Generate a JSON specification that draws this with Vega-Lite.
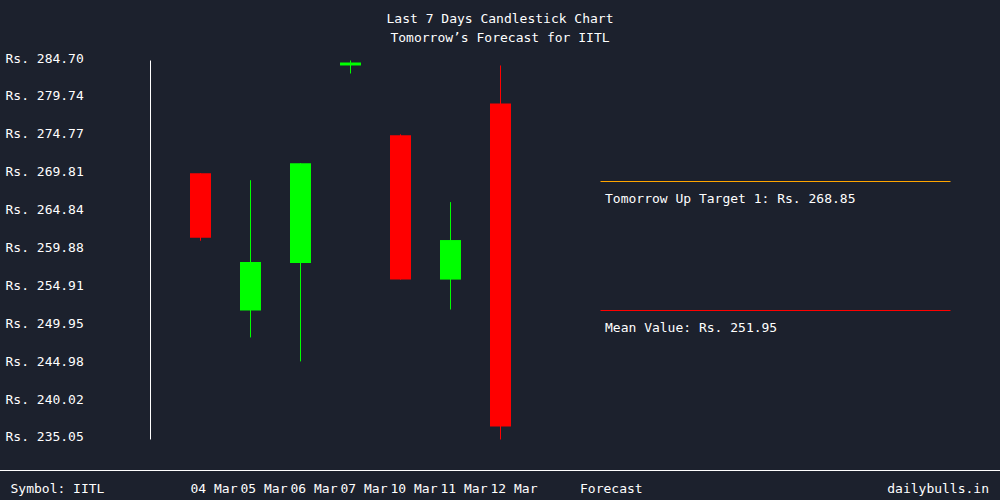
{
  "$schema": "https://vega.github.io/schema/vega-lite/v6.json",
  "width": 1000,
  "height": 500,
  "autosize": {"type": "none"},
  "padding": 0,
  "background": "#1c212d",
  "view": {"stroke": null},
  "config": {
    "font": "DejaVu Sans Mono",
    "text": {"font": "DejaVu Sans Mono", "fontSize": 13, "color": "#ffffff"},
    "axisY": {
      "orient": "left",
      "labelAlign": "left",
      "labelPadding": -5,
      "ticks": false,
      "domain": false,
      "grid": false,
      "labelColor": "#ffffff",
      "labelFont": "DejaVu Sans Mono",
      "labelFontSize": 13,
      "labelBaseline": "middle",
      "labelOffset": -2.5,
      "labelOverlap": false,
      "labelBound": false
    }
  },
  "title": {
    "text": "Last 7 Days Candlestick Chart",
    "subtitle": "Tomorrow’s Forecast for IITL",
    "anchor": "middle",
    "frame": "group",
    "orient": "top",
    "offset": -45,
    "font": "DejaVu Sans Mono",
    "fontSize": 13,
    "fontWeight": "normal",
    "color": "#ffffff",
    "subtitleFont": "DejaVu Sans Mono",
    "subtitleFontSize": 13,
    "subtitleColor": "#ffffff",
    "subtitlePadding": 6
  },
  "datasets": {
    "candles": [
      {"i": 0, "date": "04 Mar", "open": 269.94, "high": 269.94, "low": 261.09, "close": 261.48},
      {"i": 1, "date": "05 Mar", "open": 251.95, "high": 269.02, "low": 248.42, "close": 258.31},
      {"i": 2, "date": "06 Mar", "open": 258.18, "high": 271.24, "low": 245.28, "close": 271.24},
      {"i": 3, "date": "07 Mar", "open": 284.05, "high": 284.70, "low": 283.00, "close": 284.44},
      {"i": 4, "date": "10 Mar", "open": 274.90, "high": 275.03, "low": 256.00, "close": 256.00},
      {"i": 5, "date": "11 Mar", "open": 256.00, "high": 266.15, "low": 252.08, "close": 261.18},
      {"i": 6, "date": "12 Mar", "open": 279.08, "high": 284.05, "low": 235.05, "close": 236.75}
    ],
    "forecast": [
      {"kind": "target", "value": 268.85, "label": "Tomorrow Up Target 1: Rs. 268.85"},
      {"kind": "mean", "value": 251.95, "label": "Mean Value: Rs. 251.95"}
    ]
  },
  "layer": [
    {
      "data": {"name": "candles"},
      "mark": {"type": "rule", "strokeWidth": 1},
      "encoding": {
        "x": {"field": "i", "type": "quantitative", "scale": {"domain": [-4.01, 15.99], "nice": false, "zero": false, "padding": 0}, "axis": null},
        "y": {
          "field": "low",
          "type": "quantitative",
          "title": null,
          "scale": {"domain": [227.124, 292.628], "nice": false, "zero": false},
          "axis": {
            "title": null,
            "values": [235.05, 240.02, 244.98, 249.95, 254.91, 259.88, 264.84, 269.81, 274.77, 279.74, 284.70],
            "labelExpr": "'Rs. ' + format(datum.value, '.2f')"
          }
        },
        "y2": {"field": "high"},
        "color": {"condition": {"test": "datum.close < datum.open", "value": "#ff0000"}, "value": "#00ff00"}
      }
    },
    {
      "data": {"name": "candles"},
      "mark": {"type": "bar", "size": 21},
      "encoding": {
        "x": {"field": "i", "type": "quantitative", "axis": null},
        "y": {"field": "open", "type": "quantitative", "title": null},
        "y2": {"field": "close"},
        "color": {"condition": {"test": "datum.close < datum.open", "value": "#ff0000"}, "value": "#00ff00"}
      }
    },
    {
      "data": {"name": "candles"},
      "mark": {"type": "text", "align": "left", "baseline": "middle", "dx": -10},
      "encoding": {
        "x": {"field": "i", "type": "quantitative", "axis": null},
        "y": {"datum": 228.565, "title": null},
        "text": {"field": "date"}
      }
    },
    {
      "data": {"name": "candles"},
      "mark": {"type": "rule", "strokeWidth": 1, "color": "#ffffff"},
      "encoding": {
        "x": {"datum": -1, "axis": null},
        "y": {"aggregate": "min", "field": "low", "type": "quantitative", "title": null},
        "y2": {"aggregate": "max", "field": "high"}
      }
    },
    {
      "data": {"values": [{}]},
      "mark": {"type": "rule", "strokeWidth": 1, "color": "#ffffff"},
      "encoding": {
        "y": {"datum": 230.988, "title": null}
      }
    },
    {
      "data": {"name": "forecast"},
      "mark": {"type": "rule", "strokeWidth": 1},
      "encoding": {
        "x": {"datum": 8, "axis": null},
        "x2": {"datum": 15},
        "y": {"field": "value", "type": "quantitative", "title": null},
        "color": {"condition": {"test": "datum.kind === 'mean'", "value": "#ff0000"}, "value": "#ffa500"}
      }
    },
    {
      "data": {"name": "forecast"},
      "mark": {"type": "text", "align": "left", "baseline": "middle", "dx": 4.5, "dy": 17.5},
      "encoding": {
        "x": {"datum": 8, "axis": null},
        "y": {"field": "value", "type": "quantitative", "title": null},
        "text": {"field": "label"}
      }
    },
    {
      "data": {"values": [{"text": "Symbol: IITL"}]},
      "mark": {"type": "text", "align": "left", "baseline": "middle"},
      "encoding": {
        "x": {"datum": -3.8, "axis": null},
        "y": {"datum": 228.565, "title": null},
        "text": {"field": "text"}
      }
    },
    {
      "data": {"values": [{"text": "Forecast"}]},
      "mark": {"type": "text", "align": "left", "baseline": "middle"},
      "encoding": {
        "x": {"datum": 7.59, "axis": null},
        "y": {"datum": 228.565, "title": null},
        "text": {"field": "text"}
      }
    },
    {
      "data": {"values": [{"text": "dailybulls.in"}]},
      "mark": {"type": "text", "align": "right", "baseline": "middle"},
      "encoding": {
        "x": {"datum": 15.77, "axis": null},
        "y": {"datum": 228.565, "title": null},
        "text": {"field": "text"}
      }
    }
  ]
}
